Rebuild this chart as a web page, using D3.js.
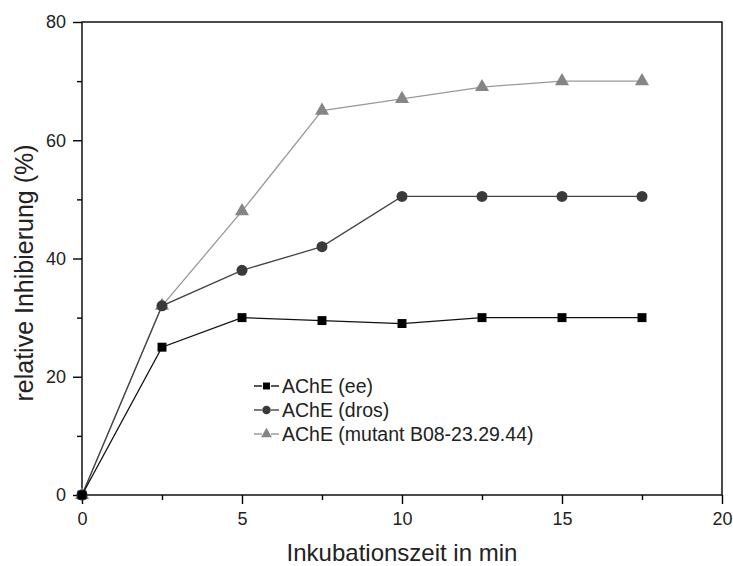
<!DOCTYPE html>
<html>
<head>
<script src="https://d3js.org/d3.v7.min.js"></script>
<style>
  body { margin: 0; background: #fff; }
  text { font-family: "Liberation Sans", Arial, sans-serif; }
</style>
</head>
<body>
<div id="chart"></div>
<script>
// data
var times = [0, 2.5, 5, 7.5, 10, 12.5, 15, 17.5];
var ee = [0, 25, 30, 29.5, 29, 30, 30, 30];
var dros = [0, 32, 38, 42, 50.5, 50.5, 50.5, 50.5];
var mutant = [0, 32, 48, 65, 67, 69, 70, 70];
var seriesNames = ["AChE (ee)", "AChE (dros)", "AChE (mutant B08-23.29.44)"];
var xTicks = [0, 5, 10, 15, 20];
var yTicks = [0, 20, 40, 60, 80];

var W = 733, H = 566;
var margin = {top: 22, right: 11, bottom: 71, left: 82};
var width = W - margin.left - margin.right,
    height = H - margin.top - margin.bottom;

var svg = d3.select("#chart").append("svg")
    .attr("width", W).attr("height", H);
var g = svg.append("g")
    .attr("transform", "translate(" + margin.left + "," + margin.top + ")");

var x = d3.scaleLinear().domain([0, 20]).range([0, width]);
var y = d3.scaleLinear().domain([0, 80]).range([height, 0]);

// frame
g.append("rect").attr("width", width).attr("height", height)
    .attr("fill", "none").attr("stroke", "#000").attr("stroke-width", 1.4);

// axes
g.append("g").attr("transform", "translate(0," + height + ")")
    .call(d3.axisBottom(x).tickValues(xTicks).tickSize(9).tickPadding(8).tickSizeOuter(0));
g.append("g").attr("transform", "translate(0," + height + ")")
    .call(d3.axisBottom(x).tickValues([2.5, 7.5, 12.5, 17.5]).tickSize(5).tickFormat("").tickSizeOuter(0));
g.append("g")
    .call(d3.axisLeft(y).tickValues(yTicks).tickSize(9).tickPadding(7).tickSizeOuter(0));
g.append("g")
    .call(d3.axisLeft(y).tickValues([10, 30, 50, 70]).tickSize(5).tickFormat("").tickSizeOuter(0));
g.selectAll(".domain").remove();
g.selectAll(".tick line").attr("stroke", "#000").attr("stroke-width", 1.4);
g.selectAll(".tick text").attr("font-size", 18).attr("fill", "#222")
    .style("font-family", "Liberation Sans, Arial, sans-serif");

// axis titles
svg.append("text")
    .attr("x", 402).attr("y", 561)
    .attr("text-anchor", "middle").attr("font-size", 24).attr("fill", "#222")
    .text("Inkubationszeit in min");
svg.append("text")
    .attr("transform", "translate(33,273) rotate(-90)")
    .attr("text-anchor", "middle").attr("font-size", 25).attr("fill", "#222")
    .text("relative Inhibierung (%)");

var series = [
  {name: seriesNames[0], values: ee, line: "#111", fill: "#000", shape: d3.symbolSquare, size: 80},
  {name: seriesNames[1], values: dros, line: "#444", fill: "#3a3a3a", shape: d3.symbolCircle, size: 95},
  {name: seriesNames[2], values: mutant, line: "#999", fill: "#858585", shape: d3.symbolTriangle, size: 85}
];

var line = d3.line()
    .x(function(d) { return x(d[0]); })
    .y(function(d) { return y(d[1]); });

// draw in reverse so black is on top
series.slice().reverse().forEach(function(s) {
  var pts = times.map(function(t, i) { return [t, s.values[i]]; });
  g.append("path").datum(pts)
      .attr("d", line).attr("fill", "none")
      .attr("stroke", s.line).attr("stroke-width", 1.3);
  g.selectAll(null).data(pts).enter().append("path")
      .attr("transform", function(d) { return "translate(" + x(d[0]) + "," + y(d[1]) + ")"; })
      .attr("d", d3.symbol().type(s.shape).size(s.size))
      .attr("fill", s.fill);
});

// legend
var legend = svg.append("g").attr("transform", "translate(254,386)");
series.forEach(function(s, i) {
  var row = legend.append("g").attr("transform", "translate(0," + (i * 24) + ")");
  row.append("line").attr("x1", 0).attr("x2", 8).attr("y1", 0).attr("y2", 0)
      .attr("stroke", s.line).attr("stroke-width", 1.4);
  row.append("line").attr("x1", 17).attr("x2", 25).attr("y1", 0).attr("y2", 0)
      .attr("stroke", s.line).attr("stroke-width", 1.4);
  row.append("path").attr("transform", "translate(12.5,0)")
      .attr("d", d3.symbol().type(s.shape).size(s.size * 0.6))
      .attr("fill", s.fill);
  row.append("text").attr("x", 28).attr("y", 7)
      .attr("font-size", 19.5).attr("fill", "#222").text(s.name);
});
</script>
</body>
</html>
